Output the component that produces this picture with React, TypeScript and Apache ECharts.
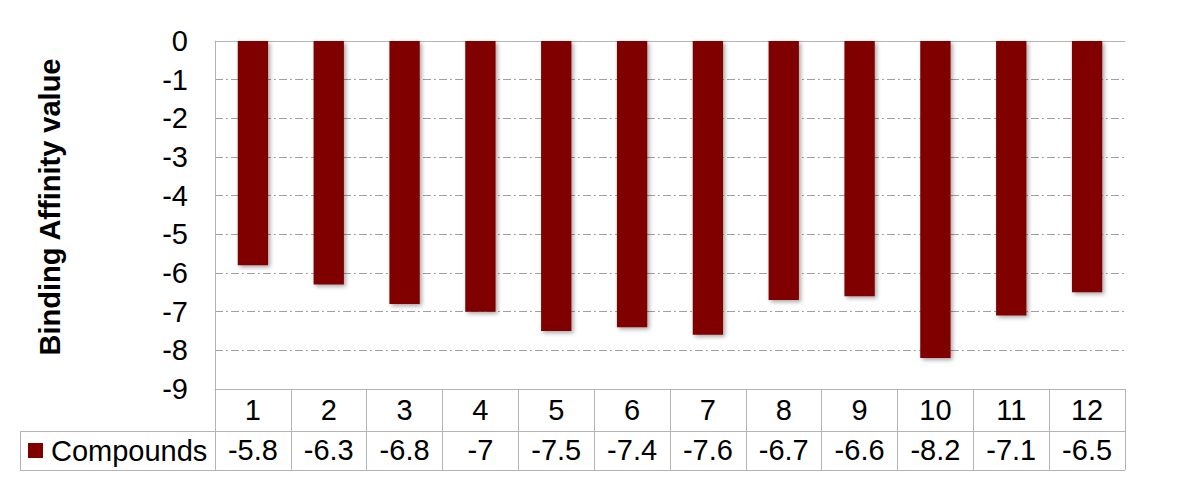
import React, { useEffect, useRef } from "react";
import * as echarts from "echarts";

const categories = ["1", "2", "3", "4", "5", "6", "7", "8", "9", "10", "11", "12"];
const seriesName = "Compounds";
const values = [-5.8, -6.3, -6.8, -7, -7.5, -7.4, -7.6, -6.7, -6.6, -8.2, -7.1, -6.5];
const yAxisTitle = "Binding Affinity value";

const FONT = "'Liberation Sans', Arial, sans-serif";
const BORDER = "#b4b4b4";
const FS = 29;

export default function App() {
  const ref = useRef<HTMLDivElement>(null);
  useEffect(() => {
    if (!ref.current) return;
    const chart = echarts.init(ref.current, undefined, { renderer: "svg" });
    const gridLeft = 215;
    const gridTop = 41;
    const gridW = 910;
    const gridH = 348;
    chart.setOption({
      animation: false,
      textStyle: { fontFamily: FONT },
      grid: { left: gridLeft, top: gridTop, width: gridW, height: gridH, containLabel: false },
      legend: {
        data: [seriesName],
        left: 28,
        top: 436,
        padding: 0,
        icon: "rect",
        itemWidth: 15,
        itemHeight: 15,
        itemGap: 8,
        textStyle: { fontSize: FS, color: "#000", fontFamily: FONT, padding: [0, 0, 0, 3] },
      },
      xAxis: [
        {
          type: "category",
          data: categories,
          position: "bottom",
          axisLine: { show: true, onZero: false, lineStyle: { color: BORDER, width: 1 } },
          axisTick: { show: true, length: 42, lineStyle: { color: BORDER } },
          axisLabel: { fontSize: FS, color: "#000", margin: 6, fontFamily: FONT },
          splitLine: { show: false },
        },
        {
          type: "category",
          data: values.map((v) => String(v)),
          position: "bottom",
          offset: 42,
          axisLine: { show: true, onZero: false, lineStyle: { color: BORDER, width: 1 } },
          axisTick: { show: true, length: 39, lineStyle: { color: BORDER } },
          axisLabel: { fontSize: FS, color: "#000", margin: 4, fontFamily: FONT },
          splitLine: { show: false },
        },
        {
          type: "category",
          data: categories,
          position: "top",
          axisLine: { show: true, onZero: false, lineStyle: { color: BORDER, width: 1 } },
          axisTick: { show: false },
          axisLabel: { show: false },
          splitLine: { show: false },
        },
      ],
      yAxis: {
        type: "value",
        min: -9,
        max: 0,
        interval: 1,
        axisLine: { show: true, lineStyle: { color: BORDER, width: 1 } },
        axisTick: { show: false },
        axisLabel: { fontSize: FS, color: "#000", margin: 27, fontFamily: FONT },
        splitLine: { show: true, lineStyle: { color: "#a0a0a0", width: 1, type: [8, 3, 2, 3] } },
      },
      graphic: [
        {
          type: "text",
          x: 50,
          y: 207,
          rotation: Math.PI / 2,
          style: {
            text: yAxisTitle,
            font: `bold 29px ${FONT}`,
            fill: "#000",
            textAlign: "center",
            textVerticalAlign: "middle",
          },
        },
        { type: "line", shape: { x1: 20, y1: 431.5, x2: 215, y2: 431.5 }, style: { stroke: BORDER, lineWidth: 1 } },
        { type: "line", shape: { x1: 20, y1: 470.5, x2: 1125, y2: 470.5 }, style: { stroke: BORDER, lineWidth: 1 } },
        { type: "line", shape: { x1: 20.5, y1: 431, x2: 20.5, y2: 471 }, style: { stroke: BORDER, lineWidth: 1 } },
      ],
      series: [
        {
          name: seriesName,
          type: "bar",
          data: values,
          xAxisIndex: 0,
          barWidth: "40%",
          itemStyle: {
            color: "#800000",
            shadowColor: "rgba(0,0,0,0.35)",
            shadowBlur: 4,
            shadowOffsetX: 2,
            shadowOffsetY: 2,
          },
        },
      ],
    });
    return () => chart.dispose();
  }, []);
  return (
    <div
      ref={ref}
      style={{ position: "fixed", left: 0, top: 0, width: 1200, height: 495, background: "#fff" }}
    />
  );
}
